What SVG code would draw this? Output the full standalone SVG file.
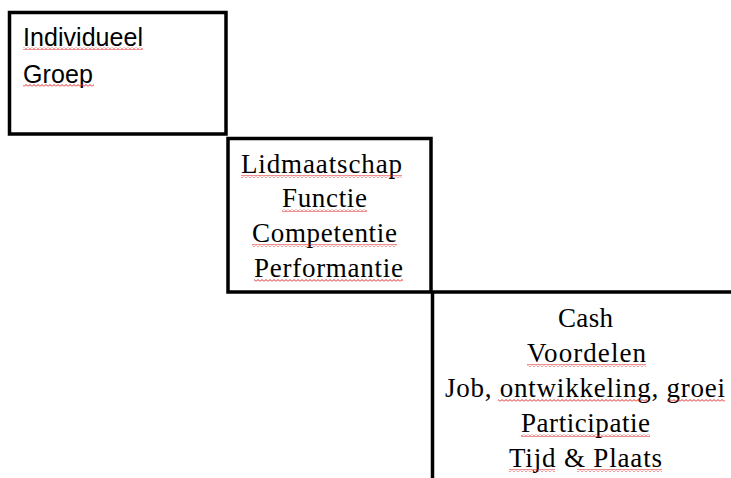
<svg xmlns="http://www.w3.org/2000/svg" width="731" height="478" viewBox="0 0 731 478">
  <style>
    .box { fill: #fff; stroke: #000; stroke-width: 3.5; }
    .sans { font-family: "Liberation Sans", Arial, sans-serif; font-size: 25px; fill: #000; }
    .serif { font-family: "Liberation Serif", "Times New Roman", serif; font-size: 27px; fill: #000; }
    .squiggle { fill: url(#wave); }
  </style>
  <defs>
    <!-- red zig-zag used as a spell-check underline -->
    <pattern id="wave" patternUnits="userSpaceOnUse" width="4" height="3">
      <path d="M0 2.5 L2 0.5 L4 2.5" fill="none" stroke="#e02020" stroke-width="1"/>
    </pattern>
  </defs>

  <rect width="731" height="478" fill="#fff"/>

  <g id="box-scope">
    <rect class="box" x="9.5" y="12.5" width="216.5" height="121.5"/>
    <text class="sans" x="23" y="46" textLength="120" lengthAdjust="spacing">Individueel</text>
    <text class="sans" x="23" y="83" textLength="70" lengthAdjust="spacing">Groep</text>
    <rect class="squiggle" x="23" y="47" width="120" height="3"/>
    <rect class="squiggle" x="23" y="84" width="71" height="3"/>
  </g>

  <g id="box-basis">
    <rect class="box" x="228" y="138.5" width="203" height="153.5"/>
    <text class="serif" x="241" y="173" textLength="161" lengthAdjust="spacing">Lidmaatschap</text>
    <text class="serif" x="282" y="207" textLength="85" lengthAdjust="spacing">Functie</text>
    <text class="serif" x="252" y="242" textLength="145" lengthAdjust="spacing">Competentie</text>
    <text class="serif" x="254" y="277" textLength="149" lengthAdjust="spacing">Performantie</text>
    <rect class="squiggle" x="241" y="175" width="161" height="3"/>
    <rect class="squiggle" x="282" y="209" width="85" height="3"/>
    <rect class="squiggle" x="252" y="244" width="145" height="3"/>
    <rect class="squiggle" x="254" y="279" width="149" height="3"/>
  </g>

  <g id="box-vorm">
    <rect class="box" x="432.5" y="292" width="310" height="200"/>
    <text class="serif" x="558" y="327" textLength="55" lengthAdjust="spacing">Cash</text>
    <text class="serif" x="527" y="362" textLength="119" lengthAdjust="spacing">Voordelen</text>
    <text class="serif" x="445" y="397" textLength="280" lengthAdjust="spacing">Job, ontwikkeling, groei</text>
    <text class="serif" x="521" y="432" textLength="129" lengthAdjust="spacing">Participatie</text>
    <text class="serif" x="509" y="467" textLength="153" lengthAdjust="spacing">Tijd &amp; Plaats</text>
    <rect class="squiggle" x="527" y="364" width="119" height="3"/>
    <rect class="squiggle" x="498" y="399" width="150" height="3"/>
    <rect class="squiggle" x="667" y="399" width="58" height="3"/>
    <rect class="squiggle" x="521" y="434" width="129" height="3"/>
    <rect class="squiggle" x="509" y="469" width="46" height="3"/>
    <rect class="squiggle" x="577" y="469" width="85" height="3"/>
  </g>

  <g id="connectors"/>
</svg>
